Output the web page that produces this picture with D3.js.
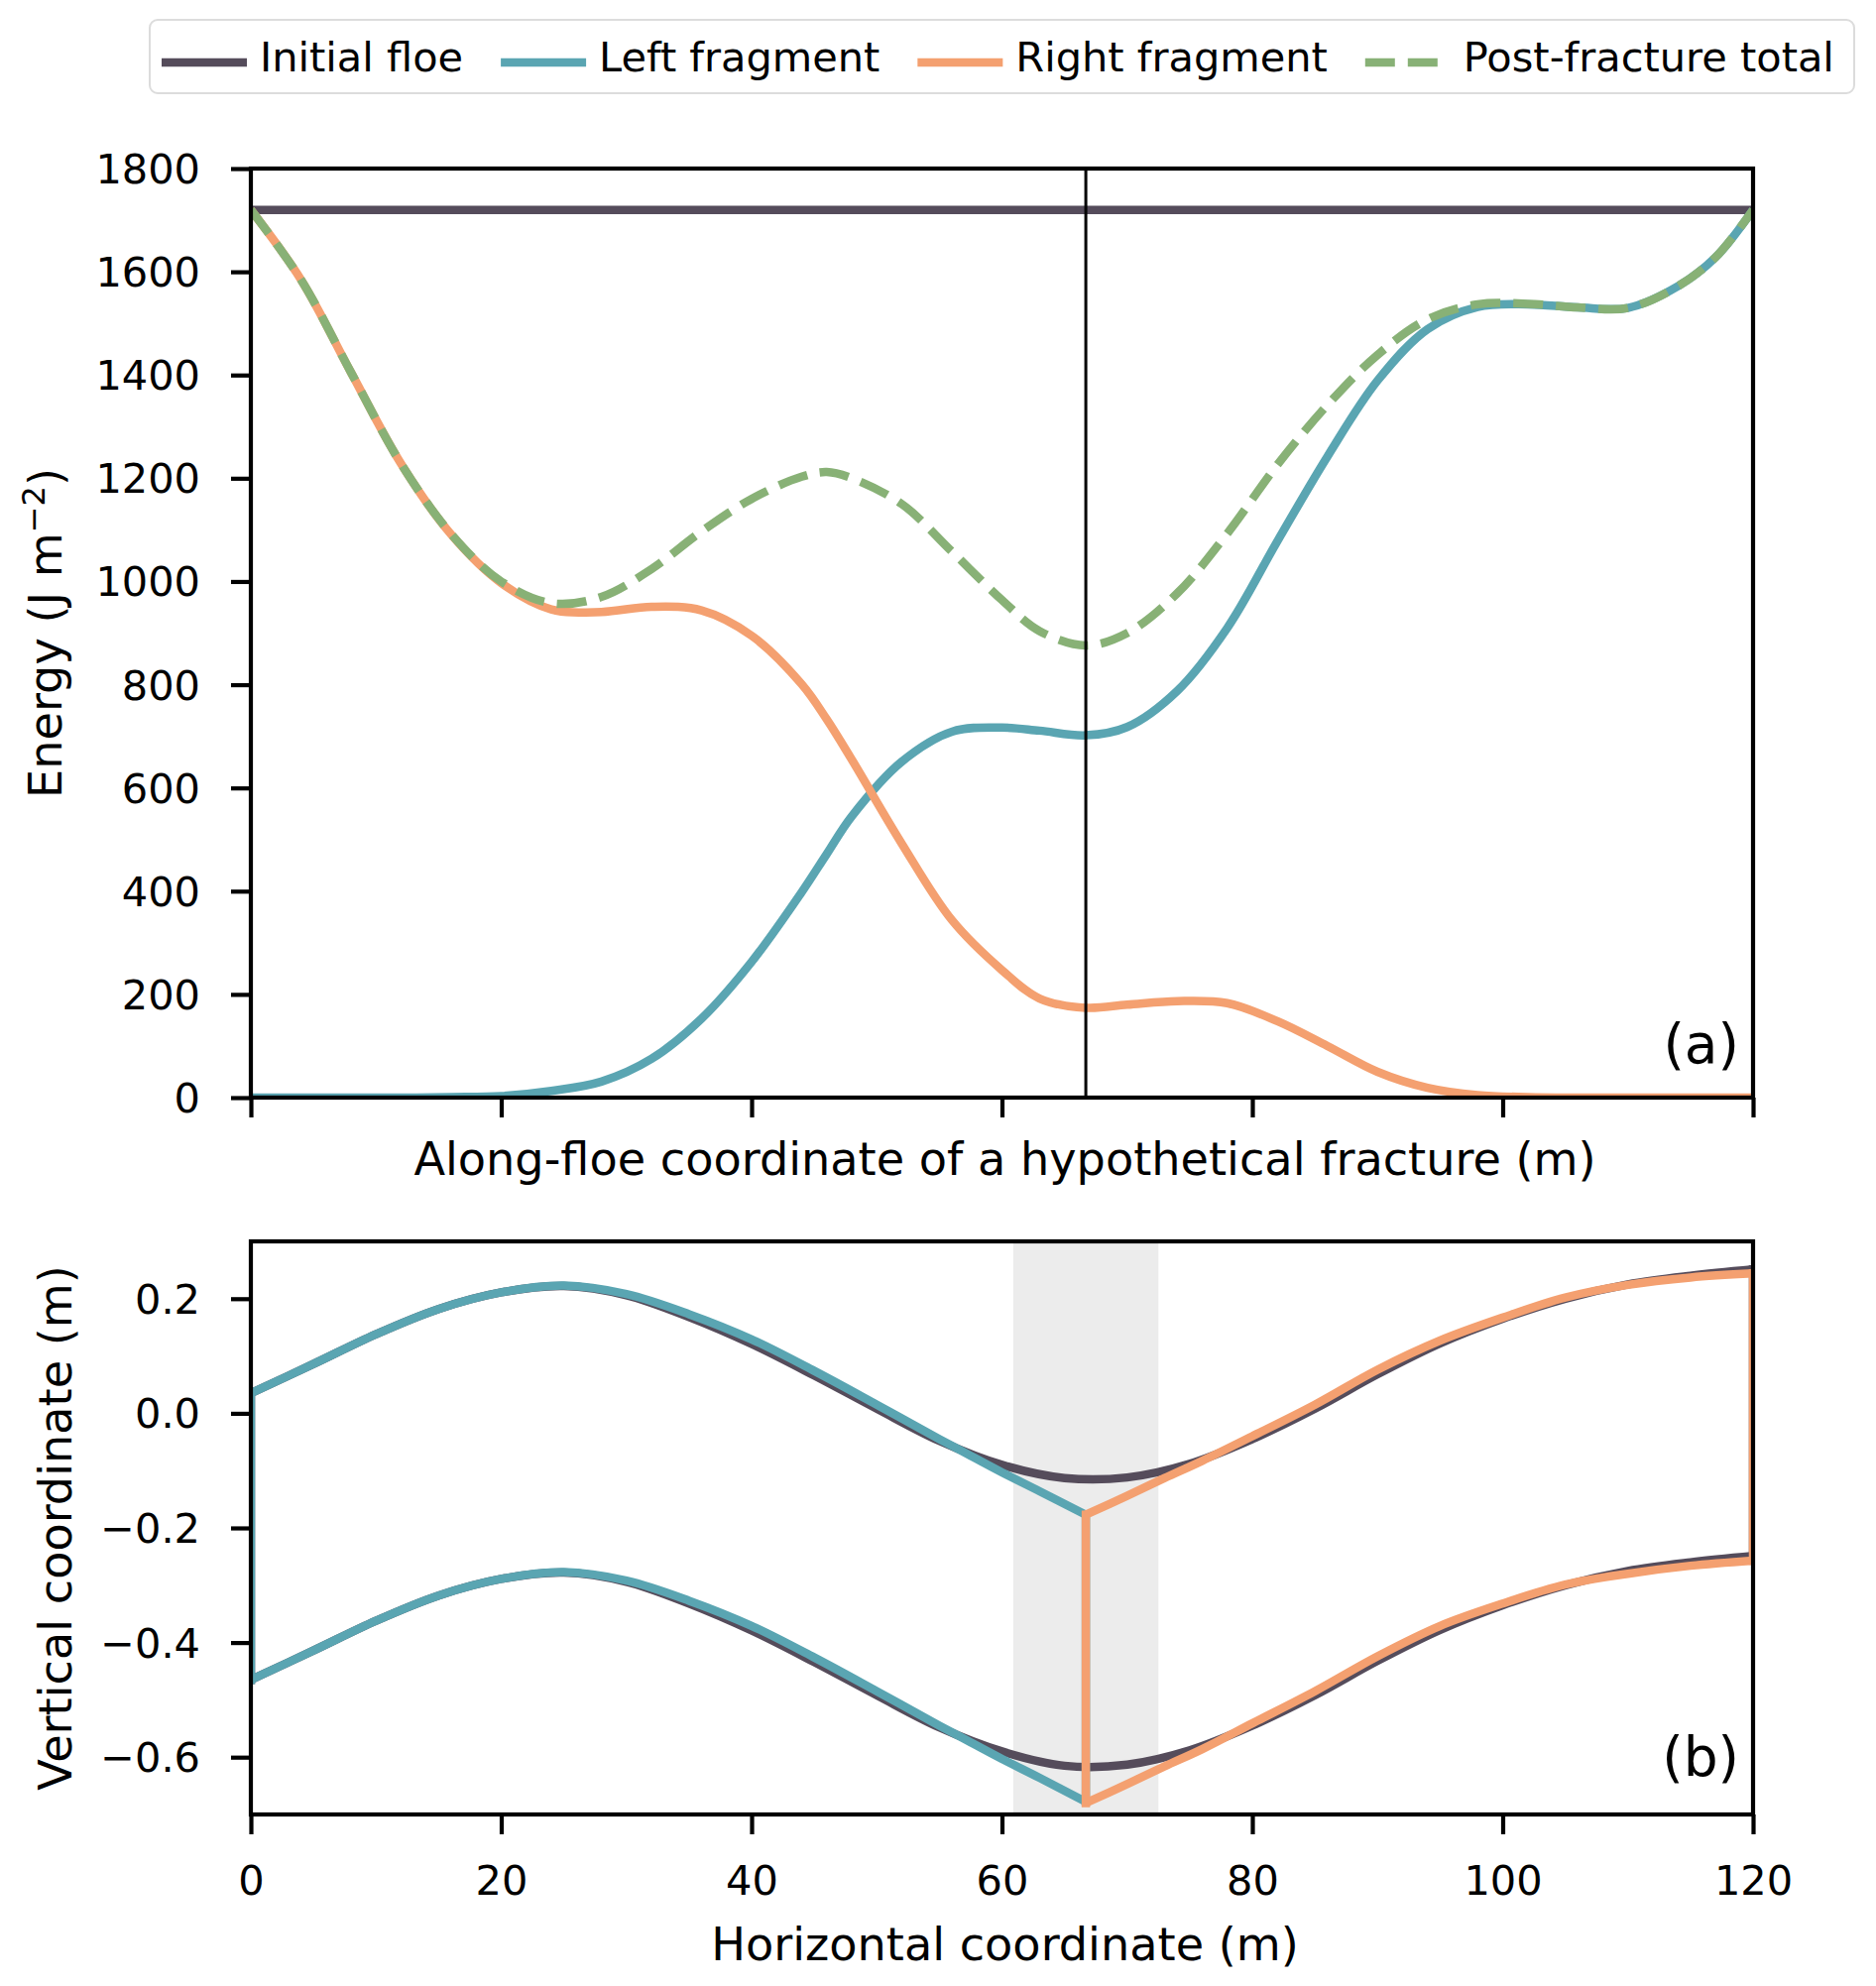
<!DOCTYPE html>
<html>
<head>
<meta charset="utf-8">
<script src="https://cdn.jsdelivr.net/npm/d3@7"></script>
<style>
  body { margin: 0; background: #fff; }
  text { font-family: "DejaVu Sans", sans-serif; fill: #000; }
</style>
</head>
<body>
<div id="chart"></div>
<script>
// ---- data, panel (a): energy against position of a hypothetical fracture ----
const fractureX = 66.7;
const energyX = [0, 4, 8, 12, 16, 20, 24, 28, 32, 36, 40, 44, 46, 48, 52, 56, 60, 63, 66.7,
                 70, 74, 78, 82, 86, 90, 94, 98, 102, 106, 110, 114, 117, 120];
const initialEnergyX = [0, 120];
const initialEnergy = [1720, 1720];
const leftEnergy = [0, 0, 0, 0, 1, 3, 13, 31, 75, 153, 263, 398, 472, 545, 651, 709, 717, 711, 702,
                    718, 788, 910, 1078, 1242, 1389, 1489, 1532, 1537, 1531, 1530, 1572, 1628, 1720];
const rightEnergy = [1720, 1585, 1405, 1228, 1091, 997, 946, 941, 951, 944, 895, 801, 733, 655, 492, 344, 247, 192, 174,
                     180, 187, 183, 148, 100, 50, 19, 5, 1, 0, 0, 0, 0, 0];
const totalEnergy = [1720, 1585, 1405, 1228, 1092, 1000, 958, 970, 1024, 1097, 1160, 1203, 1212, 1200, 1150, 1058, 964, 904, 876,
                     900, 977, 1093, 1226, 1342, 1439, 1508, 1537, 1538, 1531, 1530, 1572, 1628, 1720];

// ---- data, panel (b): floe geometry ----
const floeX = [0, 5, 10, 15, 20, 25, 30, 35, 40, 45, 50, 55, 60, 65, 70, 75, 80, 85, 90, 95, 100, 105, 110, 115, 120];
const floeTop = [0.035, 0.086, 0.138, 0.182, 0.211, 0.222, 0.206, 0.168, 0.121, 0.066, 0.008, -0.048, -0.090, -0.113, -0.112,
                 -0.088, -0.045, 0.008, 0.068, 0.122, 0.165, 0.200, 0.225, 0.240, 0.251];
const floeBottom = [-0.465, -0.414, -0.362, -0.318, -0.289, -0.278, -0.294, -0.332, -0.379, -0.434, -0.492, -0.548, -0.590,
                    -0.615, -0.613, -0.588, -0.545, -0.492, -0.432, -0.378, -0.335, -0.300, -0.275, -0.260, -0.249];
const leftX = [0, 5, 10, 15, 20, 25, 30, 35, 40, 45, 50, 55, 57.5, 60, 63, 66.7];
const leftTop = [0.035, 0.086, 0.138, 0.182, 0.211, 0.223, 0.208, 0.173, 0.129, 0.074, 0.015, -0.045, -0.074, -0.103, -0.136, -0.177];
const leftBottom = [-0.465, -0.414, -0.362, -0.318, -0.289, -0.277, -0.292, -0.327, -0.371, -0.426, -0.485, -0.545, -0.574,
                    -0.603, -0.636, -0.678];
const rightX = [66.7, 70, 73, 76, 80, 85, 90, 95, 100, 105, 110, 115, 120];
const rightTop = [-0.177, -0.144, -0.113, -0.083, -0.040, 0.015, 0.076, 0.127, 0.167, 0.202, 0.224, 0.237, 0.244];
const rightBottom = [-0.680, -0.647, -0.616, -0.586, -0.541, -0.485, -0.424, -0.371, -0.332, -0.299, -0.280, -0.266, -0.257];
const bandX = [60.9, 72.5];

// ---- ticks and labels ----
const xTicks = [0, 20, 40, 60, 80, 100, 120];
const energyTicks = [0, 200, 400, 600, 800, 1000, 1200, 1400, 1600, 1800];
const heightTicks = [-0.6, -0.4, -0.2, 0.0, 0.2];
const legendLabels = ["Initial floe", "Left fragment", "Right fragment", "Post-fracture total"];

const colors = {
    floe: "#554c5b",
    left: "#5aa5b2",
    right: "#f4a070",
    total: "#88b176"
};

const W = 1892, H = 2003;
const left = 253, right = 1768;
const topA = {top: 170, bottom: 1107};
const topB = {top: 1252, bottom: 1830};
const lw = 8.5;
const dash = "30,13";
const tickFont = 41.5, labelFont = 46.2;

const svg = d3.select("#chart").append("svg")
    .attr("width", W)
    .attr("height", H)
    .attr("viewBox", `0 0 ${W} ${H}`);

const x = d3.scaleLinear().domain([0, 120]).range([left, right]);
const yA = d3.scaleLinear().domain([0, 1800]).range([topA.bottom, topA.top]);
const yB = d3.scaleLinear().domain([-0.7, 0.3]).range([topB.bottom, topB.top]);

// clip paths for both panels
const defs = svg.append("defs");
[["clipA", topA], ["clipB", topB]].forEach(([id, p]) => {
    defs.append("clipPath").attr("id", id)
        .append("rect")
        .attr("x", left).attr("y", p.top)
        .attr("width", right - left).attr("height", p.bottom - p.top);
});

function smooth(y) {
    return d3.line()
        .x(d => x(d[0]))
        .y(d => y(d[1]))
        .curve(d3.curveCatmullRom.alpha(0.5));
}
function straight(y) {
    return d3.line().x(d => x(d[0])).y(d => y(d[1]));
}

function styleAxis(g) {
    g.select(".domain").remove();
    g.selectAll(".tick line").attr("stroke", "#000").attr("stroke-width", 4.2);
    g.selectAll(".tick text").attr("font-size", tickFont).attr("font-family", "DejaVu Sans").attr("fill", "#000");
}

function spines(p) {
    svg.append("rect")
        .attr("x", left).attr("y", p.top)
        .attr("width", right - left).attr("height", p.bottom - p.top)
        .attr("fill", "none").attr("stroke", "#000").attr("stroke-width", 4.2);
}

// ================= panel (a) =================
const gA = svg.append("g").attr("clip-path", "url(#clipA)");

gA.append("path")
    .datum(d3.zip(initialEnergyX, initialEnergy))
    .attr("d", straight(yA))
    .attr("fill", "none").attr("stroke", colors.floe).attr("stroke-width", lw);

gA.append("path")
    .datum(d3.zip(energyX, leftEnergy))
    .attr("d", smooth(yA))
    .attr("fill", "none").attr("stroke", colors.left).attr("stroke-width", lw);

gA.append("path")
    .datum(d3.zip(energyX, rightEnergy))
    .attr("d", smooth(yA))
    .attr("fill", "none").attr("stroke", colors.right).attr("stroke-width", lw);

gA.append("path")
    .datum(d3.zip(energyX, totalEnergy))
    .attr("d", smooth(yA))
    .attr("fill", "none").attr("stroke", colors.total).attr("stroke-width", lw)
    .attr("stroke-dasharray", dash);

// fracture position
gA.append("line")
    .attr("x1", x(fractureX)).attr("x2", x(fractureX))
    .attr("y1", topA.top).attr("y2", topA.bottom)
    .attr("stroke", "#000").attr("stroke-width", 3);

svg.append("g")
    .attr("transform", `translate(${left},0)`)
    .call(d3.axisLeft(yA).tickValues(energyTicks).tickSize(20).tickPadding(31).tickFormat(d3.format("d")))
    .call(styleAxis)
    .selectAll(".tick text").attr("dy", "0.35em");

svg.append("g")
    .attr("transform", `translate(0,${topA.bottom})`)
    .call(d3.axisBottom(x).tickValues(xTicks).tickSize(20).tickFormat(""))
    .call(styleAxis);

spines(topA);

svg.append("text")
    .attr("x", (left + right) / 2 + 3).attr("y", 1185)
    .attr("text-anchor", "middle").attr("font-size", labelFont)
    .text("Along-floe coordinate of a hypothetical fracture (m)");

const ylabA = svg.append("text")
    .attr("transform", `translate(62,${(topA.top + topA.bottom) / 2}) rotate(-90)`)
    .attr("text-anchor", "middle").attr("font-size", labelFont);
ylabA.append("tspan").text("Energy (J m");
ylabA.append("tspan").attr("font-size", 32).attr("dy", -17).text("\u22122");
ylabA.append("tspan").attr("dy", 17).text(")");

svg.append("text")
    .attr("x", 1754).attr("y", 1072)
    .attr("text-anchor", "end").attr("font-size", 55)
    .text("(a)");

// ================= panel (b) =================
svg.append("rect")
    .attr("x", x(bandX[0])).attr("y", topB.top)
    .attr("width", x(bandX[1]) - x(bandX[0])).attr("height", topB.bottom - topB.top)
    .attr("fill", "#ececec");

const gB = svg.append("g").attr("clip-path", "url(#clipB)");

function outline(xs, tops, bottoms, color) {
    gB.append("path")
        .datum(d3.zip(xs, tops))
        .attr("d", smooth(yB))
        .attr("fill", "none").attr("stroke", color).attr("stroke-width", lw);
    gB.append("path")
        .datum(d3.zip(xs, bottoms))
        .attr("d", smooth(yB))
        .attr("fill", "none").attr("stroke", color).attr("stroke-width", lw);
    const n = xs.length - 1;
    [0, n].forEach(i => {
        gB.append("path")
            .datum([[xs[i], tops[i]], [xs[i], bottoms[i]]])
            .attr("d", straight(yB))
            .attr("fill", "none").attr("stroke", color).attr("stroke-width", lw)
            .attr("stroke-linecap", "square");
    });
}

outline(floeX, floeTop, floeBottom, colors.floe);
outline(leftX, leftTop, leftBottom, colors.left);
outline(rightX, rightTop, rightBottom, colors.right);

svg.append("g")
    .attr("transform", `translate(${left},0)`)
    .call(d3.axisLeft(yB).tickValues(heightTicks).tickSize(20).tickPadding(31)
        .tickFormat(d => d3.format(".1f")(d).replace("-", "\u2212")))
    .call(styleAxis)
    .selectAll(".tick text").attr("dy", "0.35em");

svg.append("g")
    .attr("transform", `translate(0,${topB.bottom})`)
    .call(d3.axisBottom(x).tickValues(xTicks).tickSize(20).tickPadding(32).tickFormat(d3.format("d")))
    .call(styleAxis);

spines(topB);

svg.append("text")
    .attr("x", (left + right) / 2 + 3).attr("y", 1977)
    .attr("text-anchor", "middle").attr("font-size", labelFont)
    .text("Horizontal coordinate (m)");

svg.append("text")
    .attr("transform", `translate(71.5,${(topB.top + topB.bottom) / 2}) rotate(-90)`)
    .attr("text-anchor", "middle").attr("font-size", labelFont)
    .text("Vertical coordinate (m)");

svg.append("text")
    .attr("x", 1754).attr("y", 1791)
    .attr("text-anchor", "end").attr("font-size", 55)
    .text("(b)");

// ================= legend =================
const legend = svg.append("g");
legend.append("rect")
    .attr("x", 151).attr("y", 20).attr("width", 1719).attr("height", 74).attr("rx", 8)
    .attr("fill", "#fff").attr("stroke", "#dcdcdc").attr("stroke-width", 2);

const legendColors = [colors.floe, colors.left, colors.right, colors.total];
let lx = 163;
legendLabels.forEach((label, i) => {
    legend.append("line")
        .attr("x1", lx).attr("x2", lx + 86)
        .attr("y1", 63).attr("y2", 63)
        .attr("stroke", legendColors[i]).attr("stroke-width", lw)
        .attr("stroke-dasharray", i === 3 ? dash : null);
    const t = legend.append("text")
        .attr("x", lx + 99).attr("y", 72)
        .attr("font-size", tickFont)
        .text(label);
    lx = lx + 99 + t.node().getComputedTextLength() + 38;
});
</script>
</body>
</html>
